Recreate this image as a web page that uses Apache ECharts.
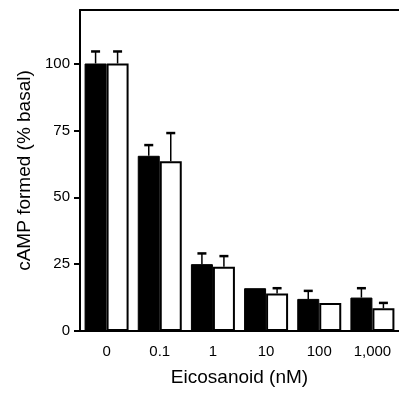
<!DOCTYPE html>
<html>
<head>
<meta charset="utf-8">
<script src="https://cdn.jsdelivr.net/npm/echarts@6/dist/echarts.min.js"></script>
<style>
  html, body { margin: 0; padding: 0; background: #fff; }
  #chart { width: 399px; height: 393px; }
</style>
</head>
<body>
<div id="chart"></div>
<script>
// Eicosanoid concentrations (nM)
const categories = ['0', '0.1', '1', '10', '100', '1,000'];
// cAMP formed, % basal (black = first agonist, white = second)
const blackValues = [100, 65.5, 25, 16, 12, 12.5];
const whiteValues = [100, 63.5, 24, 14, 10.5, 8.5];
// upper error (SEM), 0 = not drawn
const blackErr = [4.5, 4, 4, 0, 3, 3.5];
const whiteErr = [4.5, 10.5, 4, 2, 0, 2];
const yTicks = [0, 25, 50, 75, 100];

const BAR_W = 22;
const FONT = 'Liberation Sans, Arial, sans-serif';

function errorSeries(values, errs, side) {
  return {
    type: 'custom',
    z: 5,
    data: values.map((v, i) => [i, v, v + errs[i]]),
    renderItem: function (params, api) {
      const i = api.value(0);
      if (!errs[i]) return null;
      const base = api.coord([i, api.value(1)]);
      const top = api.coord([i, api.value(2)]);
      const x = base[0] + side * BAR_W / 2;
      return {
        type: 'group',
        children: [
          { type: 'line', shape: { x1: x, y1: base[1], x2: x, y2: top[1] },
            style: { stroke: '#000', lineWidth: 1.5 } },
          { type: 'line', shape: { x1: x - 4.5, y1: top[1], x2: x + 4.5, y2: top[1] },
            style: { stroke: '#000', lineWidth: 2.5 } }
        ]
      };
    }
  };
}

const chart = echarts.init(document.getElementById('chart'));
chart.setOption({
  animation: false,
  backgroundColor: '#fff',
  grid: { left: 80, right: 0, top: 10, bottom: 62 },
  xAxis: [{
    type: 'category',
    data: categories,
    name: 'Eicosanoid (nM)',
    nameLocation: 'middle',
    nameGap: 37,
    nameTextStyle: { fontFamily: FONT, fontSize: 19, color: '#000' },
    axisLine: { lineStyle: { color: '#000', width: 2 } },
    axisTick: { alignWithLabel: true, length: 6, lineStyle: { color: '#000', width: 2 } },
    axisLabel: { fontFamily: FONT, fontSize: 15, color: '#000', margin: 13 }
  }, {
    type: 'category',
    data: categories,
    position: 'top',
    axisLine: { lineStyle: { color: '#000', width: 2 } },
    axisTick: { show: false },
    axisLabel: { show: false }
  }],
  yAxis: {
    type: 'value',
    min: 0,
    max: 120,
    name: 'cAMP formed (% basal)',
    nameLocation: 'middle',
    nameGap: 42,
    nameTextStyle: { fontFamily: FONT, fontSize: 19, color: '#000' },
    splitLine: { show: false },
    axisLine: { show: true, lineStyle: { color: '#000', width: 2 } },
    axisTick: { show: true, length: 6, customValues: yTicks, lineStyle: { color: '#000', width: 2 } },
    axisLabel: { fontFamily: FONT, fontSize: 15, color: '#000', margin: 10, customValues: yTicks }
  },
  series: [
    {
      type: 'bar',
      data: blackValues,
      barWidth: BAR_W,
      barGap: '0%',
      itemStyle: { color: '#000', borderColor: '#000', borderWidth: 1 }
    },
    {
      type: 'bar',
      data: whiteValues,
      barWidth: BAR_W,
      barGap: '0%',
      itemStyle: { color: '#fff', borderColor: '#000', borderWidth: 2 }
    },
    errorSeries(blackValues, blackErr, -1),
    errorSeries(whiteValues, whiteErr, 1)
  ]
});
</script>
</body>
</html>
